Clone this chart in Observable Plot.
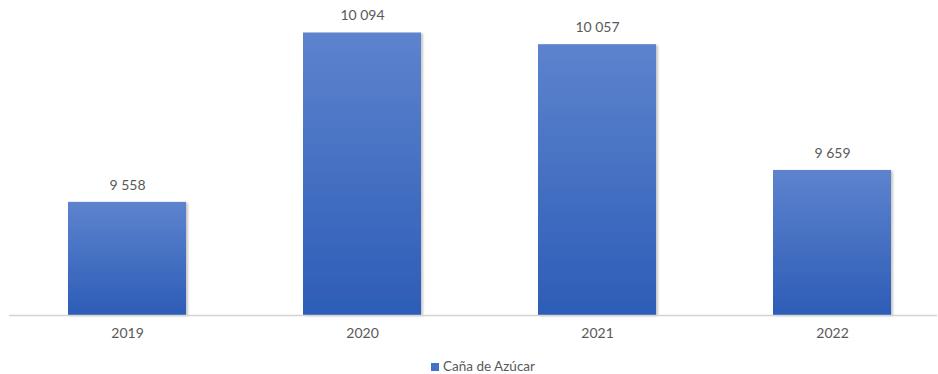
<!DOCTYPE html>
<html><head><meta charset="utf-8">
<script src="https://cdn.jsdelivr.net/npm/d3@7"></script>
<script src="https://cdn.jsdelivr.net/npm/@observablehq/plot@0.6"></script>
<style>
body{margin:0;background:#fff;font-family:Lato,"Open Sans",sans-serif;}
#wrap{position:relative;width:938px;height:374px;}
#legend{position:absolute;left:431px;top:357px;font-size:13.5px;color:#595959;line-height:18px;white-space:nowrap;}
#legend span.sw{display:inline-block;width:8px;height:8px;background:#4472c4;margin-right:4px;vertical-align:0px;}
</style>
</head><body><div id="wrap"><div id="chart"></div><div id="legend"></div></div>
<script>
const years = ["2019", "2020", "2021", "2022"];
const values = [9558, 10094, 10057, 9659];
const seriesName = "Caña de Azúcar";
const yMin = 9200;
const yMax = 10200;

const data = years.map((year, i) => ({year, value: values[i]}));
const fmt = v => d3.format(",")(v).replace(/,/g, "\u202F");

const defs = () => {
  const ns = "http://www.w3.org/2000/svg";
  const d = document.createElementNS(ns, "defs");
  d.innerHTML = `<linearGradient id="barGrad" x1="0" y1="0" x2="0" y2="1">
      <stop offset="0" stop-color="#5d83ce"/><stop offset="1" stop-color="#2d5db7"/></linearGradient>
    <filter id="shadow" x="-10%" y="-10%" width="130%" height="125%">
      <feDropShadow dx="2" dy="1" stdDeviation="1.2" flood-color="#000" flood-opacity="0.22"/></filter>`;
  return d;
};

const chart = Plot.plot({
  width: 938,
  height: 352,
  marginLeft: 9,
  marginRight: 1,
  marginTop: 0,
  marginBottom: 37,
  style: {fontFamily: "Lato, 'Open Sans', sans-serif", fontSize: "14px", color: "#595959", background: "#fff"},
  x: {domain: years, range: [9.5, 949.5], paddingInner: 0.5, paddingOuter: 0.25, label: null},
  y: {domain: [yMin, yMax], range: [315, -1], axis: null},
  marks: [
    defs,
    Plot.barY(data, {x: "year", y1: yMin, y2: "value", fill: "url(#barGrad)"}),
    Plot.ruleY([yMin], {stroke: "#d4d4d4", strokeWidth: 1.5}),
    Plot.text(data, {x: "year", y: "value", text: d => fmt(d.value), dy: -17, fill: "#595959", fontSize: 14}),
    Plot.axisX({tickSize: 0, tickPadding: 13, fontSize: 14, fill: "#595959", label: null})
  ]
});
document.getElementById("chart").appendChild(chart);
d3.select(chart).selectAll("g[aria-label=bar] rect").attr("filter", "url(#shadow)");
document.getElementById("legend").innerHTML = `<span class="sw"></span>${seriesName}`;
</script>
</body></html>
